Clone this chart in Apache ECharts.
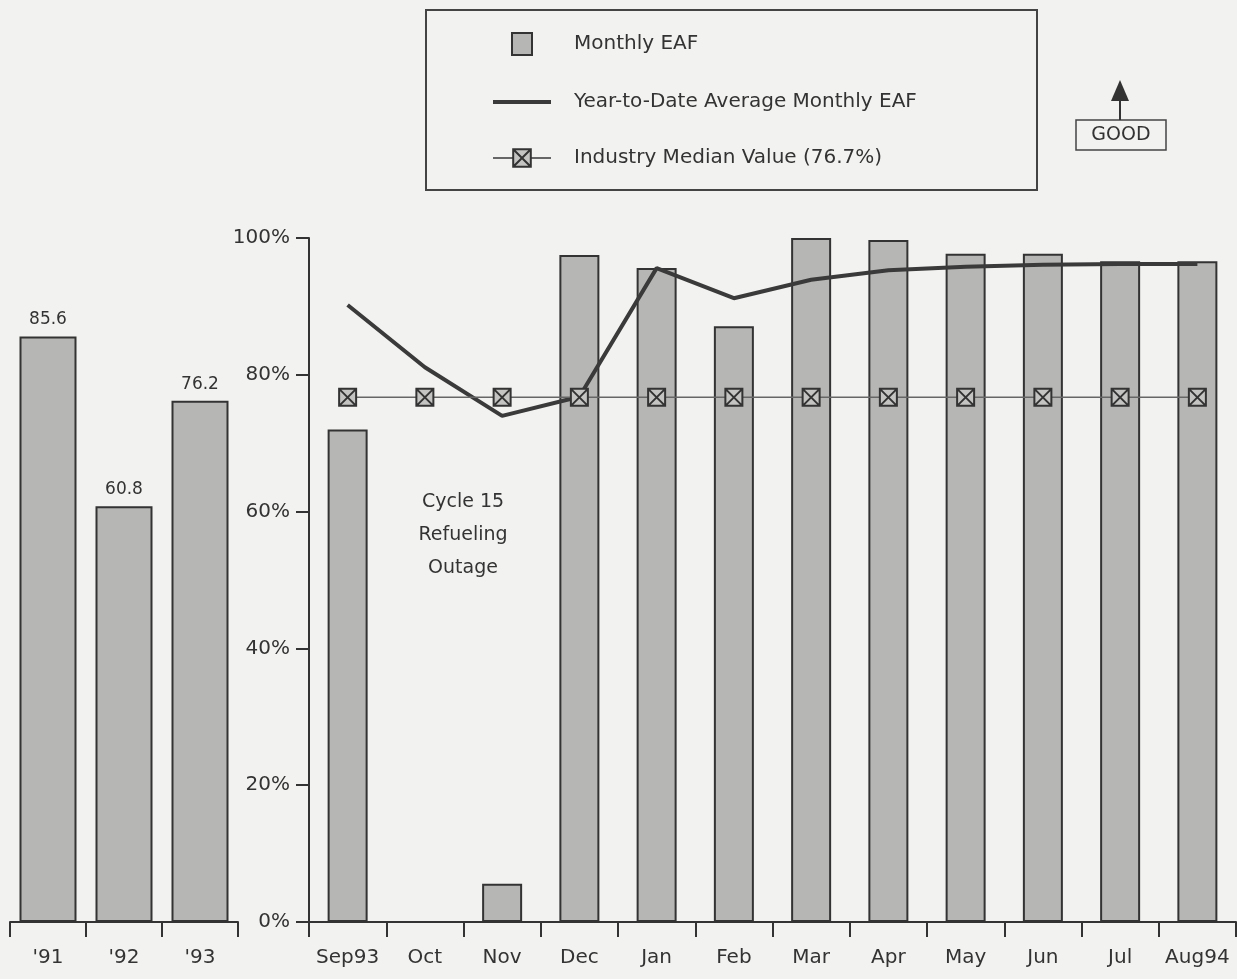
<!DOCTYPE html>
<html><head><meta charset="utf-8">
<script src="https://cdn.jsdelivr.net/npm/echarts@6/dist/echarts.min.js"></script>
<style>html,body{margin:0;padding:0;background:#f2f2f0}#c{width:1237px;height:979px}</style>
</head><body><div id="c"></div>
<script>
const yearCats = ["'91", "'92", "'93"];
const yearValues = [85.6, 60.8, 76.2];
const monthCats = ['Sep93', 'Oct', 'Nov', 'Dec', 'Jan', 'Feb', 'Mar', 'Apr', 'May', 'Jun', 'Jul', 'Aug94'];
const monthlyEAF = [72.0, 0, 5.6, 97.5, 95.6, 87.1, 100, 99.7, 97.7, 97.7, 96.6, 96.6];
const ytdAvg = [90.2, 81.1, 74.0, 76.8, 95.6, 91.2, 93.9, 95.3, 95.8, 96.1, 96.2, 96.2];
const industryMedian = 76.7;
const yMin = 0, yMax = 100, yStep = 20;

const FONT = 'DejaVu Sans';
const INK = '#333';
const BAR_FILL = '#b6b6b4';
const medianSymbol = 'path://M0,0L10,0L10,10L0,10Z M0,0L10,10 M10,0L0,10';

const chart = echarts.init(document.getElementById('c'), null, {renderer: 'canvas'});
const catAxisBase = {
  type: 'category',
  boundaryGap: true,
  axisLine: {show: true, lineStyle: {color: INK, width: 2}},
  axisTick: {show: true, interval: 0, length: 15, lineStyle: {color: INK, width: 2}},
  axisLabel: {interval: 0, margin: 26, fontFamily: FONT, fontSize: 20, color: INK},
  splitLine: {show: false}
};
const option = {
  backgroundColor: '#f2f2f0',
  animation: false,
  textStyle: {fontFamily: FONT},
  grid: [
    {left: 10, width: 228, top: 238, height: 684},
    {left: 309, right: 1, top: 238, height: 684}
  ],
  xAxis: [
    Object.assign({}, catAxisBase, {gridIndex: 0, data: yearCats}),
    Object.assign({}, catAxisBase, {gridIndex: 1, data: monthCats})
  ],
  yAxis: [
    {type: 'value', gridIndex: 0, min: yMin, max: yMax, interval: yStep, show: false},
    {type: 'value', gridIndex: 1, min: yMin, max: yMax, interval: yStep,
     axisLine: {show: true, lineStyle: {color: INK, width: 2}},
     axisTick: {show: true, length: 13, lineStyle: {color: INK, width: 2}},
     axisLabel: {margin: 19, formatter: '{value}%', fontFamily: FONT, fontSize: 20, color: INK},
     splitLine: {show: false}}
  ],
  legend: {
    left: 487, top: 27, orient: 'vertical',
    itemWidth: 58, itemHeight: 22, itemGap: 36,
    textStyle: {fontFamily: FONT, fontSize: 20, color: INK, padding: [0, 0, 0, 18]},
    data: [
      {name: 'Monthly EAF', icon: 'path://M0,0L10,0L10,11L0,11Z'},
      {name: 'Year-to-Date Average Monthly EAF', icon: 'path://M0,0L58,0L58,4L0,4Z',
       itemStyle: {color: '#3a3a3a', borderWidth: 0}},
      {name: 'Industry Median Value (76.7%)'}
    ]
  },
  series: [
    {name: 'Monthly EAF', type: 'bar', xAxisIndex: 0, yAxisIndex: 0, data: yearValues,
     barWidth: 57,
     itemStyle: {color: BAR_FILL, borderColor: INK, borderWidth: 2},
     label: {show: true, position: 'top', distance: 8, fontFamily: FONT, fontSize: 17, color: INK}},
    {name: 'Monthly EAF', type: 'bar', xAxisIndex: 1, yAxisIndex: 1, data: monthlyEAF,
     barWidth: 40,
     itemStyle: {color: BAR_FILL, borderColor: INK, borderWidth: 2}},
    {name: 'Year-to-Date Average Monthly EAF', type: 'line', xAxisIndex: 1, yAxisIndex: 1,
     data: ytdAvg, showSymbol: false, symbol: 'none', z: 5,
     lineStyle: {color: '#3a3a3a', width: 4},
     itemStyle: {color: '#3a3a3a'}},
    {name: 'Industry Median Value (76.7%)', type: 'line', xAxisIndex: 1, yAxisIndex: 1,
     data: monthCats.map(() => industryMedian), z: 6,
     symbol: medianSymbol, symbolSize: 17,
     lineStyle: {color: '#666', width: 1.5},
     itemStyle: {color: '#c4c4c2', borderColor: INK, borderWidth: 2}}
  ],
  graphic: [
    {type: 'rect', z: -1, shape: {x: 426, y: 10, width: 611, height: 180},
     style: {fill: 'none', stroke: '#444', lineWidth: 2}},
    {type: 'rect', shape: {x: 1076, y: 120, width: 90, height: 30},
     style: {fill: 'none', stroke: '#444', lineWidth: 1.5}},
    {type: 'text', x: 1121, y: 135,
     style: {text: 'GOOD', fontFamily: FONT, fontSize: 19, fill: INK, textAlign: 'center', textVerticalAlign: 'middle'}},
    {type: 'line', shape: {x1: 1120, y1: 120, x2: 1120, y2: 98}, style: {stroke: INK, lineWidth: 2}},
    {type: 'polygon', shape: {points: [[1111, 101], [1129, 101], [1120, 80]]}, style: {fill: INK}},
    {type: 'text', x: 463, y: 486,
     style: {text: 'Cycle 15\nRefueling\nOutage', fontFamily: FONT, fontSize: 19, lineHeight: 33,
             fill: INK, textAlign: 'center', textVerticalAlign: 'top'}}
  ]
};
chart.setOption(option);
</script>
</body></html>
